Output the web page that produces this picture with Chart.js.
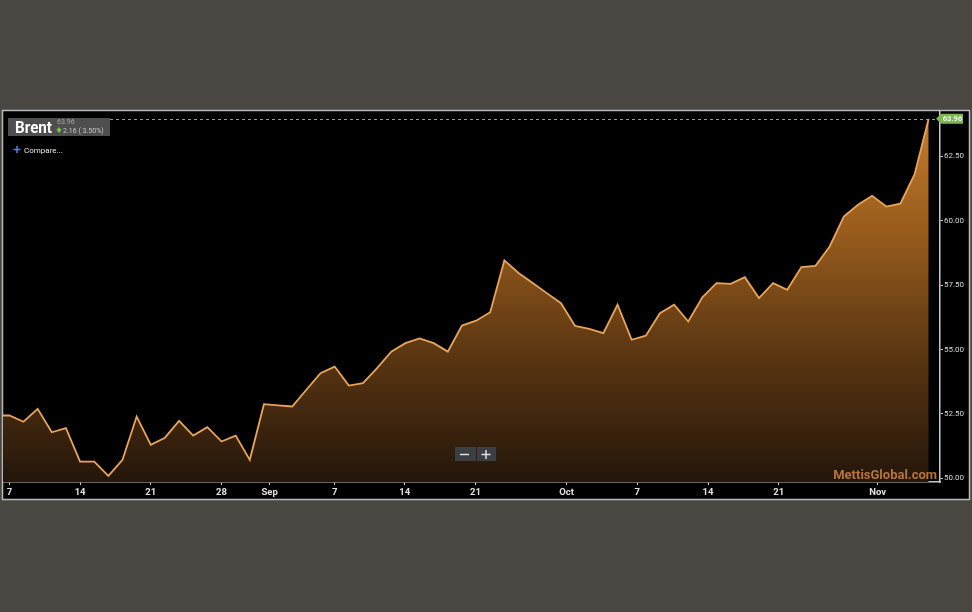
<!DOCTYPE html>
<html lang="en">
<head>
  <meta charset="UTF-8">
  <title>Brent</title>
  <script src="https://cdn.jsdelivr.net/npm/chart.js"></script>
  <style>
    html, body {
      margin: 0;
      padding: 0;
      background: #4a4642;
    }
    #wrap {
      width: 972px;
      height: 612px;
    }
  </style>
</head>
<body>
  <div id="wrap"><canvas id="brentChart"></canvas></div>

  <script>
    // trading day index (Aug 7 = 0) and Brent close
    const dayIndex = [-1, 0, 1, 2, 3, 4, 5, 6, 7, 8, 9, 10, 11, 12, 13, 14, 15, 16, 17, 18, 19,
      20, 21, 22, 23, 24, 25, 26, 27, 28, 29, 30, 31, 32, 33, 34, 35, 36, 37, 38, 39, 40,
      41, 42, 43, 44, 45, 46, 47, 48, 49, 50, 51, 52, 53, 54, 55, 56, 57, 58, 59, 60,
      61, 62, 63, 64, 65];
    const brent = [52.44, 52.44, 52.20, 52.70, 51.79, 51.95, 50.65, 50.65, 50.10, 50.72, 52.40,
      51.30, 51.58, 52.23, 51.66, 51.99, 51.43, 51.66, 50.72, 52.88, 52.83,
      52.79, 53.44, 54.08, 54.34, 53.60, 53.70, 54.28, 54.92, 55.25, 55.43,
      55.25, 54.92, 55.93, 56.12, 56.45, 58.46, 57.97, 57.58, 57.19, 56.80,
      55.92, 55.80, 55.64, 56.74, 55.38, 55.54, 56.41, 56.74, 56.09, 57.03,
      57.58, 57.55, 57.81, 57.00, 57.58, 57.32, 58.20, 58.25, 59.00, 60.16,
      60.62, 60.97, 60.55, 60.66, 61.80, 63.96];

    // x axis labels and where they sit on the day index
    const xTickPos = [0, 5, 10, 15, 18.4, 23, 27.95, 32.95, 39.4, 44.4, 49.4, 54.4, 61.4];
    const xTickLabels = ['7', '14', '21', '28', 'Sep', '7', '14', '21', 'Oct', '7', '14', '21', 'Nov'];
    const yTicks = [50, 52.5, 55, 57.5, 60, 62.5];

    const lastValue = brent[brent.length - 1];
    const change = 2.16;
    const changePct = 3.50;

    const ctx = document.getElementById('brentChart').getContext('2d');

    // black panel behind the plot
    const panel = {
      id: 'panel',
      beforeDraw(chart) {
        const c = chart.ctx;
        c.save();
        c.fillStyle = '#000';
        c.fillRect(2, 110, 968, 390);
        c.strokeStyle = '#b9b9b9';
        c.lineWidth = 1.5;
        c.strokeRect(2.5, 110.5, 967, 389);
        c.restore();
      }
    };

    // header box, price marker, zoom buttons, watermark
    const extras = {
      id: 'extras',
      afterDatasetsDraw(chart) {
        const c = chart.ctx;
        const y = chart.scales.y.getPixelForValue(lastValue);
        const area = chart.chartArea;
        c.save();

        // dashed last price line
        c.strokeStyle = '#9a9a9a';
        c.lineWidth = 1;
        c.setLineDash([3, 3]);
        c.beginPath();
        c.moveTo(8, Math.round(y) + 0.5);
        c.lineTo(area.right - 3, Math.round(y) + 0.5);
        c.stroke();
        c.setLineDash([]);

        // green price tag
        c.fillStyle = '#7cb84e';
        c.beginPath();
        c.moveTo(936, y);
        c.lineTo(941, y - 5);
        c.lineTo(963, y - 5);
        c.lineTo(963, y + 5);
        c.lineTo(941, y + 5);
        c.closePath();
        c.fill();
        c.fillStyle = '#f2f2f2';
        c.font = 'bold 7.5px Roboto';
        c.textAlign = 'center';
        c.textBaseline = 'middle';
        c.fillText(lastValue.toFixed(2), 952.5, y + 0.5);

        // title box
        c.fillStyle = '#4e4e4e';
        c.fillRect(8, 118, 102, 18);
        c.fillStyle = '#ffffff';
        c.font = 'bold 17px Roboto';
        c.textAlign = 'left';
        c.textBaseline = 'alphabetic';
        const w = c.measureText('Brent').width;
        c.save();
        c.translate(15, 132.5);
        c.scale(37 / w, 1);
        c.fillText('Brent', 0, 0);
        c.restore();

        c.fillStyle = '#a8a8a8';
        c.font = '7px Roboto';
        c.fillText(lastValue.toFixed(2), 57, 124);
        c.fillStyle = '#7cc04a';
        c.beginPath();
        c.moveTo(59, 127);
        c.lineTo(61.5, 130);
        c.lineTo(59, 133);
        c.lineTo(56.5, 130);
        c.closePath();
        c.fill();
        c.fillStyle = '#c8c8c8';
        c.fillText(change.toFixed(2) + ' ( ' + changePct.toFixed(2) + '%)', 63, 132.5);

        // compare link
        c.strokeStyle = '#5a7fe0';
        c.lineWidth = 1.5;
        c.beginPath();
        c.moveTo(17, 146);
        c.lineTo(17, 153);
        c.moveTo(13.5, 149.5);
        c.lineTo(20.5, 149.5);
        c.stroke();
        c.fillStyle = '#e6e6e6';
        c.font = '8px Roboto';
        c.fillText('Compare...', 24, 152.5);

        // zoom buttons
        c.fillStyle = '#3b3e43';
        c.fillRect(455, 447, 21, 14);
        c.fillRect(477, 447, 19, 14);
        c.strokeStyle = '#e0e0e0';
        c.lineWidth = 1.5;
        c.beginPath();
        c.moveTo(460, 454.5);
        c.lineTo(469, 454.5);
        c.moveTo(481.5, 454.5);
        c.lineTo(490.5, 454.5);
        c.moveTo(486, 450);
        c.lineTo(486, 459);
        c.stroke();

        // watermark
        c.fillStyle = '#b8743a';
        c.font = 'bold 13px Roboto';
        c.textAlign = 'right';
        c.fillText('MettisGlobal.com', 937, 479);

        c.restore();
      }
    };

    new Chart(ctx, {
      type: 'line',
      data: {
        datasets: [{
          label: 'Brent',
          data: dayIndex.map((d, i) => ({ x: d, y: brent[i] })),
          borderColor: '#e8a55a',
          borderWidth: 1.8,
          pointRadius: 0,
          tension: 0,
          fill: 'start',
          backgroundColor: (context) => {
            const area = context.chart.chartArea;
            if (!area) return '#7a4a18';
            const g = context.chart.ctx.createLinearGradient(0, 118, 0, area.bottom);
            g.addColorStop(0, '#c27c2c');
            g.addColorStop(0.3, '#9a5d1d');
            g.addColorStop(0.65, '#5a3612');
            g.addColorStop(1, '#24160a');
            return g;
          }
        }]
      },
      options: {
        responsive: true,
        maintainAspectRatio: false,
        animation: false,
        layout: {
          padding: { left: 3, top: 112, right: 2, bottom: 112 }
        },
        plugins: {
          legend: { display: false },
          tooltip: { enabled: false }
        },
        scales: {
          x: {
            type: 'linear',
            min: -0.45,
            max: 65.8,
            afterBuildTicks: (scale) => {
              scale.ticks = xTickPos.map(v => ({ value: v }));
            },
            afterFit: (scale) => { scale.height = 18; },
            ticks: {
              autoSkip: false,
              maxRotation: 0,
              color: '#e0e0e0',
              padding: 2,
              font: { family: 'Roboto', size: 9.5, weight: 'bold' },
              callback: (value) => {
                const i = xTickPos.indexOf(value);
                return i >= 0 ? xTickLabels[i] : '';
              }
            },
            grid: {
              drawOnChartArea: false,
              drawTicks: true,
              tickLength: 3,
              color: '#c8c8c8'
            },
            border: { display: true, color: '#c8c8c8', width: 1.5 }
          },
          y: {
            position: 'right',
            min: 49.86,
            max: 64.22,
            afterBuildTicks: (scale) => {
              scale.ticks = yTicks.map(v => ({ value: v }));
            },
            afterFit: (scale) => { scale.width = 30; },
            ticks: {
              color: '#d8d8d8',
              padding: 1,
              font: { family: 'Roboto', size: 8 },
              callback: (value) => value.toFixed(2)
            },
            grid: {
              drawOnChartArea: false,
              drawTicks: true,
              tickLength: 3,
              color: '#c8c8c8'
            },
            border: { display: true, color: '#c8c8c8', width: 1.5 }
          }
        }
      },
      plugins: [panel, extras]
    });
  </script>
</body>
</html>
